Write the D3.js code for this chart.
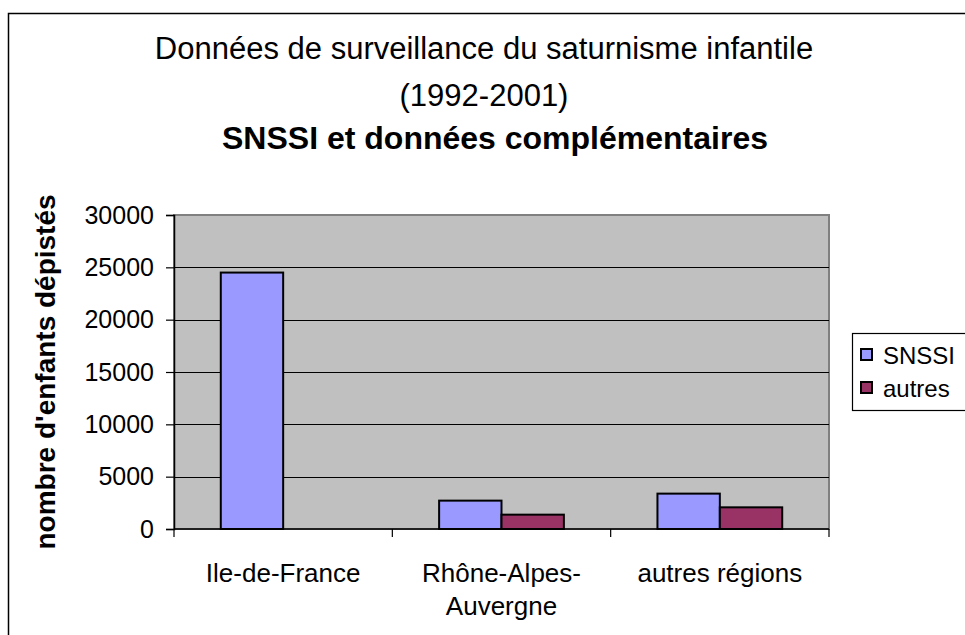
<!DOCTYPE html>
<html><head><meta charset="utf-8">
<script src="https://cdn.jsdelivr.net/npm/d3@7"></script>
<style>
html,body{margin:0;padding:0;background:#fff;}
svg{display:block;font-family:"Liberation Sans",Arial,sans-serif;}
</style></head>
<body>
<svg id="chart" width="965" height="635"></svg>
<script>
const categories = [["Ile-de-France"], ["Rhône-Alpes-", "Auvergne"], ["autres régions"]];
const seriesNames = ["SNSSI", "autres"];
const snssi = [24500, 2710, 3380];
const autres = [0, 1370, 2070];
const yTicks = [0, 5000, 10000, 15000, 20000, 25000, 30000];
const colors = ["#9999FF", "#993366"];
const titleLines = ["Données de surveillance du saturnisme infantile", "(1992-2001)"];
const titleBold = "SNSSI et données complémentaires";
const yLabel = "nombre d'enfants dépistés";

const svg = d3.select("#chart");
const L = 174, T = 215, R = 829, B = 529;

// outer frame
svg.append("rect").attr("x", 8.5).attr("y", 13.5).attr("width", 1000).attr("height", 700)
  .attr("fill", "#fff").attr("stroke", "#000").attr("stroke-width", 1.5);

// titles
const cx = 484;
svg.append("text").attr("x", cx).attr("y", 59).attr("text-anchor", "middle")
  .attr("font-size", 31).text(titleLines[0]);
svg.append("text").attr("x", cx).attr("y", 106).attr("text-anchor", "middle")
  .attr("font-size", 31).text(titleLines[1]);
svg.append("text").attr("x", cx + 11).attr("y", 149).attr("text-anchor", "middle")
  .attr("font-size", 32).attr("font-weight", "bold").text(titleBold);

const x0 = d3.scaleBand().domain(d3.range(categories.length)).range([L, R]).paddingInner(0).paddingOuter(0);
const barW = x0.bandwidth() / 3.5;
const y = d3.scaleLinear().domain([0, 30000]).range([B, T]);

// plot area
svg.append("rect").attr("x", L).attr("y", T).attr("width", R - L).attr("height", B - T)
  .attr("fill", "#C0C0C0").attr("stroke", "#808080").attr("stroke-width", 2);

// gridlines
svg.append("g").selectAll("line").data(yTicks.filter(d => d > 0 && d < 30000)).join("line")
  .attr("x1", L).attr("x2", R).attr("y1", d => Math.round(y(d)) + 0.5).attr("y2", d => Math.round(y(d)) + 0.5)
  .attr("stroke", "#000").attr("stroke-width", 1);

// bars
const series = [snssi, autres];
series.forEach((vals, si) => {
  const items = vals.map((v, i) => ({v, i})).filter(d => d.v > 0);
  svg.append("g").selectAll("rect").data(items).join("rect")
    .attr("x", d => x0(d.i) + barW * 0.75 + si * barW)
    .attr("y", d => y(d.v))
    .attr("width", barW)
    .attr("height", d => B - y(d.v))
    .attr("fill", colors[si]).attr("stroke", "#000").attr("stroke-width", 2);
});

// y axis
const yAxis = d3.axisLeft(y).tickValues(yTicks).tickSize(8).tickPadding(12).tickFormat(d3.format("d"));
const ga = svg.append("g").attr("transform", `translate(${L},0)`).call(yAxis);
ga.select(".domain").attr("stroke", "#000").attr("stroke-width", 1.5);
ga.selectAll(".tick line").attr("stroke", "#000").attr("stroke-width", 1.2);
ga.selectAll(".tick text").attr("font-size", 25).attr("font-family", "Liberation Sans, Arial, sans-serif").attr("fill", "#000");

// x axis line + ticks at category boundaries
svg.append("line").attr("x1", L).attr("x2", R).attr("y1", B).attr("y2", B).attr("stroke", "#000").attr("stroke-width", 1.5);
const bounds = d3.range(categories.length + 1).map(i => i < categories.length ? x0(i) : R);
svg.append("g").selectAll("line").data(bounds).join("line")
  .attr("x1", d => d).attr("x2", d => d).attr("y1", B).attr("y2", B + 8)
  .attr("stroke", "#000").attr("stroke-width", 1.2);

// category labels
categories.forEach((lines, i) => {
  lines.forEach((ln, j) => {
    svg.append("text").attr("x", x0(i) + x0.bandwidth() / 2).attr("y", 582 + j * 33)
      .attr("text-anchor", "middle").attr("font-size", 26).text(ln);
  });
});

// y label
svg.append("text").attr("transform", `translate(55,${(T + B) / 2}) rotate(-90)`)
  .attr("text-anchor", "middle").attr("font-size", 28).attr("font-weight", "bold").text(yLabel);

// legend
svg.append("rect").attr("x", 852.5).attr("y", 333.5).attr("width", 200).attr("height", 77)
  .attr("fill", "#fff").attr("stroke", "#000").attr("stroke-width", 1.2);
seriesNames.forEach((n, i) => {
  svg.append("rect").attr("x", 861).attr("y", 349 + i * 33).attr("width", 11).attr("height", 11)
    .attr("fill", colors[i]).attr("stroke", "#000").attr("stroke-width", 2);
  svg.append("text").attr("x", 883).attr("y", 364 + i * 33).attr("font-size", 24).text(n);
});
</script>
</body></html>
